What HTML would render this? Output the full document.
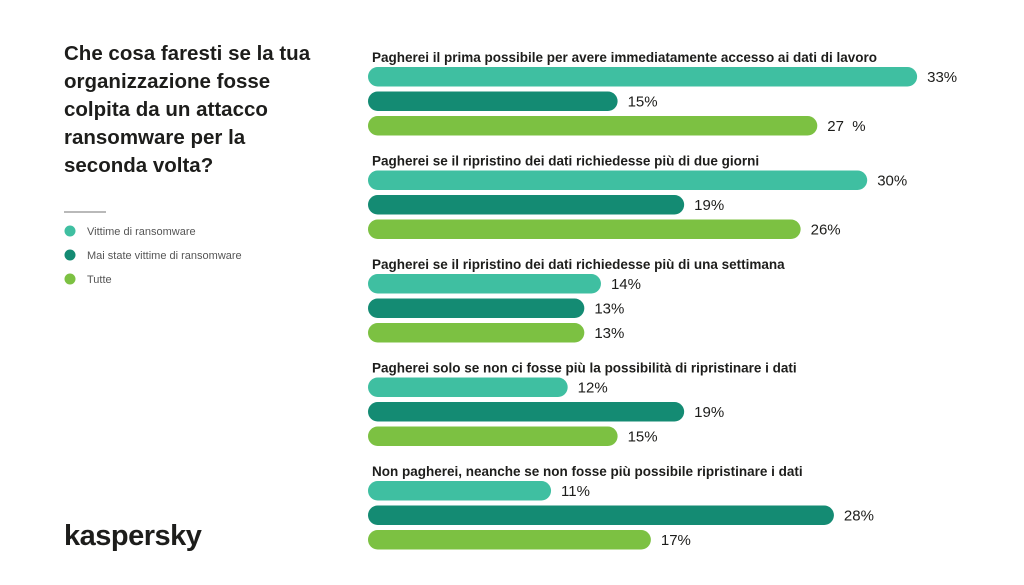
<!DOCTYPE html>
<html><head><meta charset="utf-8"><style>
body{margin:0;background:#fff;width:1024px;height:580px;overflow:hidden;font-family:"Liberation Sans",sans-serif}
</style></head><body>
<svg width="1024" height="580">
<text x="64" y="60" font-size="20.5" font-weight="bold" fill="#1d1d1b">
<tspan x="64" y="60">Che cosa faresti se la tua</tspan>
<tspan x="64" y="88">organizzazione fosse</tspan>
<tspan x="64" y="116">colpita da un attacco</tspan>
<tspan x="64" y="144">ransomware per la</tspan>
<tspan x="64" y="172">seconda volta?</tspan>
</text>
<line x1="64" y1="212" x2="106" y2="212" stroke="#444" stroke-width="0.8"/>
<g id="legend"></g>
<g id="bars"></g>
<text x="64" y="545" font-size="29" font-weight="bold" fill="#1d1d1b" letter-spacing="-0.5">kaspersky</text>
</svg>
<script>
const categories=["Pagherei il prima possibile per avere immediatamente accesso ai dati di lavoro","Pagherei se il ripristino dei dati richiedesse più di due giorni","Pagherei se il ripristino dei dati richiedesse più di una settimana","Pagherei solo se non ci fosse più la possibilità di ripristinare i dati","Non pagherei, neanche se non fosse più possibile ripristinare i dati"];
const seriesNames=["Vittime di ransomware","Mai state vittime di ransomware","Tutte"];
const victims=[33,30,14,12,11];
const nonVictims=[15,19,13,19,28];
const all=[27,26,13,15,17];
const valueLabels=[["33%","15%","27  %"],["30%","19%","26%"],["14%","13%","13%"],["12%","19%","15%"],["11%","28%","17%"]];
const colors=["#3fbfa1","#148b73","#7cc142"];
const NS="http://www.w3.org/2000/svg";
const x0=368, pxPer=16.64;
function xs(v){return x0+v*pxPer;}
const g=document.getElementById('bars');
const series=[victims,nonVictims,all];
categories.forEach((c,i)=>{
  const gy=62+i*103.5;
  const t=document.createElementNS(NS,'text');
  t.setAttribute('x',372);t.setAttribute('y',gy);
  t.setAttribute('font-size','13.5');t.setAttribute('font-weight','bold');t.setAttribute('fill','#1d1d1b');
  t.textContent=c;
  
  
  g.appendChild(t);
  series.forEach((s,j)=>{
    const y=gy+5+j*24.5;
    const r=document.createElementNS(NS,'rect');
    r.setAttribute('x',x0);r.setAttribute('y',y);r.setAttribute('height',19.5);
    r.setAttribute('width',xs(s[i])-x0);r.setAttribute('rx',9.75);r.setAttribute('fill',colors[j]);
    
    
    g.appendChild(r);
    const v=document.createElementNS(NS,'text');
    v.setAttribute('x',xs(s[i])+10);v.setAttribute('y',y+15);
    v.setAttribute('font-size','15');v.setAttribute('fill','#1d1d1b');
    v.setAttribute('xml:space','preserve');v.style.whiteSpace='pre';
    v.textContent=valueLabels[i][j];
    
    
    g.appendChild(v);
  });
});
const lg=document.getElementById('legend');
seriesNames.forEach((n,j)=>{
  const y=231+j*24;
  const c=document.createElementNS(NS,'circle');
  c.setAttribute('cx',70);c.setAttribute('cy',y);c.setAttribute('r',5.5);c.setAttribute('fill',colors[j]);
  
  
  lg.appendChild(c);
  const t=document.createElementNS(NS,'text');
  t.setAttribute('x',87);t.setAttribute('y',y+4);t.setAttribute('font-size','11');t.setAttribute('fill','#555');
  t.textContent=n;
  
  
  lg.appendChild(t);
});
</script>
</body></html>
